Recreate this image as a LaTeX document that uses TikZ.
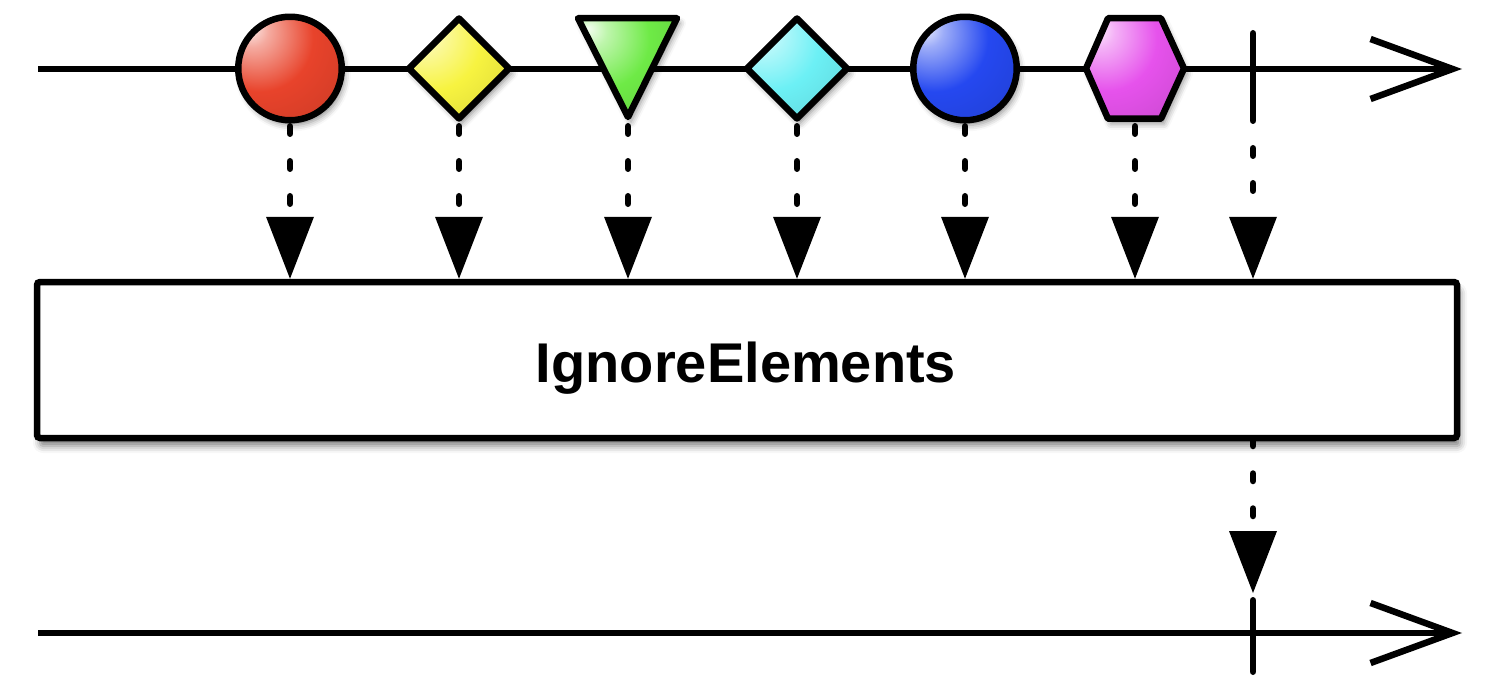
\documentclass[tikz,border=0pt]{standalone}
\usepackage{fontspec}
\setmainfont{Liberation Sans}
\usetikzlibrary{arrows.meta,shapes.geometric,shadows.blur}

\definecolor{cred}{HTML}{E8432B}
\definecolor{cyellow}{HTML}{F7F340}
\definecolor{cgreen}{HTML}{6EEA46}
\definecolor{ccyan}{HTML}{6CF0F5}
\definecolor{cblue}{HTML}{2548F0}
\definecolor{cmag}{HTML}{E652EC}

\newcommand\mkshade[2]{%
  \pgfdeclareradialshading{#1}{\pgfpoint{-20bp}{20bp}}{%
    color(0bp)=(#2!8!white); color(8bp)=(#2!45!white); color(26bp)=(#2);
    color(55bp)=(#2!85!black); color(100bp)=(#2!60!black)}}
\mkshade{shred}{cred}
\mkshade{shyellow}{cyellow}
\mkshade{shgreen}{cgreen}
\mkshade{shcyan}{ccyan}
\mkshade{shblue}{cblue}
\mkshade{shmag}{cmag}

\begin{document}
\begin{tikzpicture}[x=1pt,y=-1pt,
  lw/.style={line width=6.5pt},
  timeline/.style={lw, -{Straight Barb[length=82pt,width=60pt,sharp]}},
  tick/.style={lw, line cap=round},
  marble/.style={lw, draw, shade, line join=round, inner sep=0pt, outer sep=0pt,
    blur shadow={shadow xshift=3pt, shadow yshift=-5pt, shadow blur radius=6pt, shadow opacity=45}},
  ball/.style={marble, circle, minimum size=103.5pt},
  gem/.style={marble, diamond, aspect=1, minimum size=100pt},
  conn/.style={lw, line cap=round, dash pattern=on 7.5pt off 27.5pt,
    -{Triangle[length=62pt,width=48pt,line width=0pt]}},
  opbox/.style={lw, draw, fill=white, rounded corners=3pt, minimum width=1420pt, minimum height=156pt,
    blur shadow={shadow xshift=3pt, shadow yshift=-8pt, shadow blur radius=7pt, shadow opacity=50}},
  label/.style={font=\fontsize{56}{60}\selectfont\bfseries, inner sep=0pt}
]
\useasboundingbox (0,0) rectangle (1492,698);

% coordinates
\coordinate (L1) at (38,69);
\coordinate (R1) at (1462,69);
\coordinate (L2) at (38,633);
\coordinate (R2) at (1462,633);
\coordinate (green) at (628,68.5);
\coordinate (mag) at (1135,68.5);
\coordinate (tk1) at (1253,69);
\coordinate (tk2) at (1253,633);
\coordinate (tk2a) at (1253,593);

% operator box
\node[opbox] (box) at (747,360) {};
\node[label, anchor=base] (txt) at (746,382) {IgnoreElements};

% timelines
\draw[timeline] (L1) -- (R1);
\draw[timeline] (L2) -- (R2);

% connectors (drawn before marbles, start hidden under them)
\foreach \n/\x in {red/290, yel/459, green/628, cyan/797, blue/965, mag/1135}{
  \coordinate (c\n) at (\x,68.5);
}
\draw[conn, dash phase=12.25pt] (cred) -- (box.north -| cred);
\draw[conn, dash phase=12.25pt] (cyel) -- (box.north -| cyel);
\draw[conn, dash phase=12.25pt] (green) -- (box.north -| green);
\draw[conn, dash phase=12.25pt] (ccyan) -- (box.north -| ccyan);
\draw[conn, dash phase=12.25pt] (cblue) -- (box.north -| cblue);
\draw[conn, dash phase=12.25pt] (mag) -- (box.north -| mag);
\draw[conn, dash phase=25.75pt] (tk1) -- (box.north -| tk1);
\draw[conn, dash phase=2.75pt] (box.south -| tk2) -- (tk2a);

% marbles
\node[ball, shading=shred] (red) at (cred) {};
\node[gem, shading=shyellow] (yel) at (cyel) {};
\shadedraw[marble, shading=shgreen] (578,18.25) -- (677,18.25) -- (628,117) -- cycle;
\node[gem, shading=shcyan] (cyan) at (ccyan) {};
\node[ball, shading=shblue] (blue) at (cblue) {};
\shadedraw[marble, shading=shmag] (1086,68.5) -- (1108,18.25) -- (1161,18.25) -- (1184,68.5) -- (1161,118.75) -- (1108,118.75) -- cycle;

% completion ticks
\draw[tick] (1253,33.25) -- (1253,113.75);
\draw[tick] (1253,600.25) -- (1253,671.75);
\end{tikzpicture}
\end{document}
